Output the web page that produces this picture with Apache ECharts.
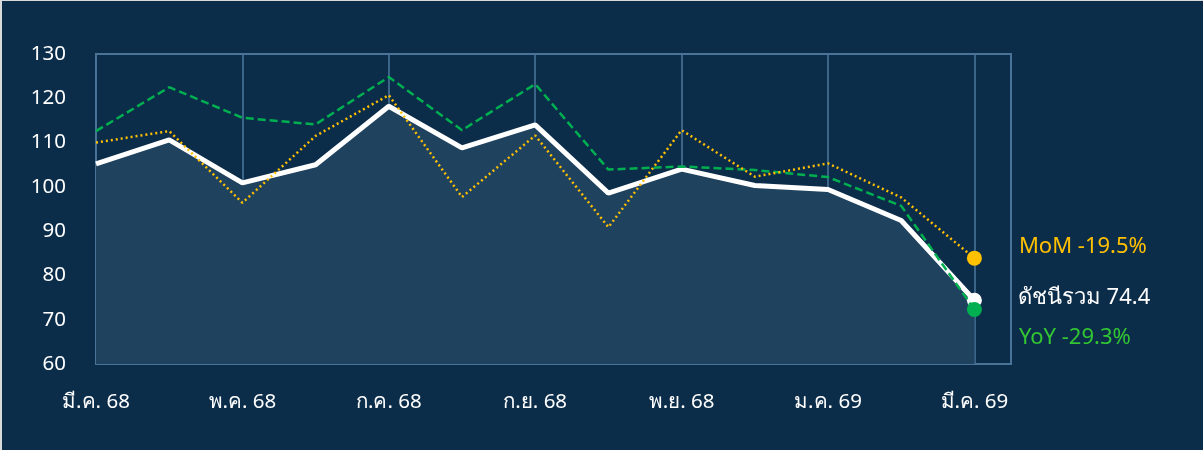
<!DOCTYPE html>
<html>
<head>
<meta charset="utf-8">
<script src="https://cdn.jsdelivr.net/npm/echarts@6/dist/echarts.min.js"></script>
<style>
  html, body { margin: 0; padding: 0; background: #dcdcdc; }
  #wrap { width: 1203px; height: 450px; box-sizing: border-box; border-left: 2px solid #d9d9d9; border-top: 1px solid #d9d9d9; background: #0c2d4a; }
  #chart { width: 1201px; height: 449px; }
</style>
</head>
<body>
<div id="wrap"><div id="chart"></div></div>
<script>
const months = ['มี.ค. 68','เม.ย. 68','พ.ค. 68','มิ.ย. 68','ก.ค. 68','ส.ค. 68','ก.ย. 68','ต.ค. 68','พ.ย. 68','ธ.ค. 68','ม.ค. 69','ก.พ. 69','มี.ค. 69'];
const indexTotal = [105.2, 110.6, 100.9, 105.0, 118.2, 108.8, 114.0, 98.6, 104.0, 100.3, 99.4, 92.4, 74.4];
const yoyLine    = [112.6, 122.5, 115.6, 114.1, 124.8, 112.8, 123.2, 103.9, 104.6, 103.8, 102.2, 95.7, 72.3];
const momLine    = [110.0, 112.6, 96.4, 111.5, 120.7, 97.7, 111.6, 90.9, 112.8, 102.3, 105.3, 97.6, 83.9];
const endLabels  = ['ดัชนีรวม 74.4', 'YoY -29.3%', 'MoM -19.5%'];
const yTicks = [60, 70, 80, 90, 100, 110, 120, 130];

const FONT = "Tahoma, 'Noto Sans', 'DejaVu Sans', sans-serif";
const last = months.length - 1;

function build(arr, color, size, label) {
  return arr.map((v, i) => {
    if (i !== last) return [i, v];
    return {
      value: [i, v],
      symbol: 'circle',
      symbolSize: size,
      itemStyle: { color: color },
      label: label
    };
  });
}

const chart = echarts.init(document.getElementById('chart'));
chart.setOption({
  backgroundColor: '#0c2d4a',
  animation: false,
  grid: {
    left: 94, top: 53, right: 192, bottom: 86,
    show: true, borderColor: '#4a7398', borderWidth: 2, backgroundColor: 'transparent'
  },
  xAxis: {
    type: 'value', min: 0, max: 12.5, interval: 2,
    axisLine: { show: false }, axisTick: { show: false },
    splitLine: { show: true, lineStyle: { color: '#4a7398', width: 1.6 } },
    axisLabel: {
      color: '#ffffff', fontSize: 20.5, fontFamily: FONT, margin: 28,
      formatter: v => (Number.isInteger(v) && months[v] !== undefined && v % 2 === 0) ? months[v] : ''
    }
  },
  yAxis: {
    type: 'value', min: yTicks[0], max: yTicks[yTicks.length - 1], interval: 10,
    axisLine: { show: false }, axisTick: { show: false },
    splitLine: { show: false },
    axisLabel: { color: '#ffffff', fontSize: 20.5, fontFamily: FONT, margin: 30 }
  },
  series: [
    {
      name: 'total', type: 'line', symbol: 'none', showSymbol: true, z: 3,
      lineStyle: { color: '#ffffff', width: 5 },
      areaStyle: { color: '#1f425f', opacity: 1, origin: 'start' },
      data: build(indexTotal, '#ffffff', 15, {
        show: true, position: 'right', distance: 36, offset: [0, -2],
        formatter: endLabels[0], color: '#ffffff', fontSize: 22, fontFamily: FONT
      })
    },
    {
      name: 'yoy', type: 'line', symbol: 'none', showSymbol: true, z: 4,
      lineStyle: { color: '#00b050', width: 2.5, type: [8, 4] },
      data: build(yoyLine, '#00b050', 15, {
        show: true, position: 'right', distance: 37, offset: [0, 28],
        formatter: endLabels[1], color: '#33c633', fontSize: 22, fontFamily: FONT
      })
    },
    {
      name: 'mom', type: 'line', symbol: 'none', showSymbol: true, z: 5,
      lineStyle: { color: '#ffc000', width: 2.5, type: [2, 3] },
      data: build(momLine, '#ffc000', 15, {
        show: true, position: 'right', distance: 37, offset: [0, -11],
        formatter: endLabels[2], color: '#ffc000', fontSize: 22, fontFamily: FONT
      })
    }
  ]
});
</script>
</body>
</html>
